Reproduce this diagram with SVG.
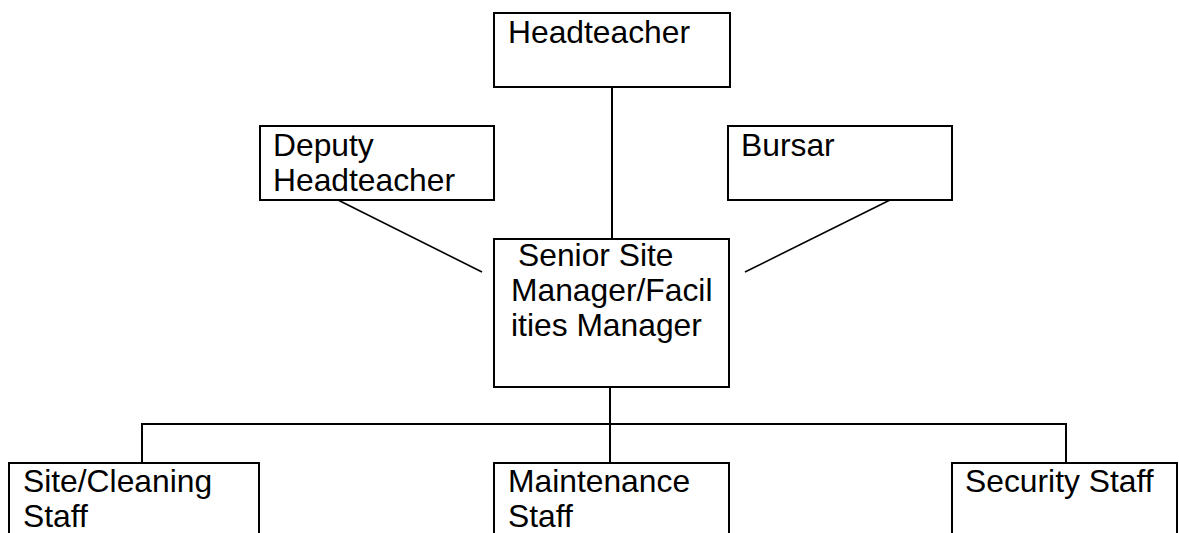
<svg xmlns="http://www.w3.org/2000/svg" width="1179" height="533" viewBox="0 0 1179 533">
<style>
.box{fill:#fff;stroke:#000;stroke-width:2}
.lbl{font-family:"Liberation Sans",Arial,sans-serif;font-size:31.8px;fill:#000}
.conn{stroke:#000;stroke-width:2;fill:none}
.diag{stroke:#000;stroke-width:1.6;fill:none}
</style>
<rect width="1179" height="533" fill="#fff"/>
<g id="connectors">
<line class="conn" x1="612" y1="87" x2="612" y2="239"/>
<line class="diag" x1="338" y1="200" x2="482" y2="272"/>
<line class="diag" x1="890" y1="200" x2="745" y2="272"/>
<line class="conn" x1="610" y1="387" x2="610" y2="463"/>
<polyline class="conn" points="142,463 142,424 1066,424 1066,463"/>
</g>
<g id="headteacher">
<rect class="box" x="494" y="13" width="236" height="74"/>
<text class="lbl" x="508" y="43">Headteacher</text>
</g>
<g id="deputy">
<rect class="box" x="260" y="126" width="234" height="74"/>
<text class="lbl" x="273" y="156">Deputy</text>
<text class="lbl" x="273" y="191">Headteacher</text>
</g>
<g id="bursar">
<rect class="box" x="728" y="126" width="224" height="74"/>
<text class="lbl" x="741" y="156">Bursar</text>
</g>
<g id="senior">
<rect class="box" x="494" y="239" width="235" height="148"/>
<text class="lbl" x="518" y="266">Senior Site</text>
<text class="lbl" x="511" y="301">Manager/Facil</text>
<text class="lbl" x="511" y="336">ities Manager</text>
</g>
<g id="site-cleaning">
<rect class="box" x="9" y="463" width="250" height="80"/>
<text class="lbl" x="23" y="492">Site/Cleaning</text>
<text class="lbl" x="23" y="527">Staff</text>
</g>
<g id="maintenance">
<rect class="box" x="494" y="463" width="235" height="80"/>
<text class="lbl" x="508" y="492">Maintenance</text>
<text class="lbl" x="508" y="527">Staff</text>
</g>
<g id="security">
<rect class="box" x="952" y="463" width="225" height="80"/>
<text class="lbl" x="965" y="492">Security Staff</text>
</g>
</svg>
